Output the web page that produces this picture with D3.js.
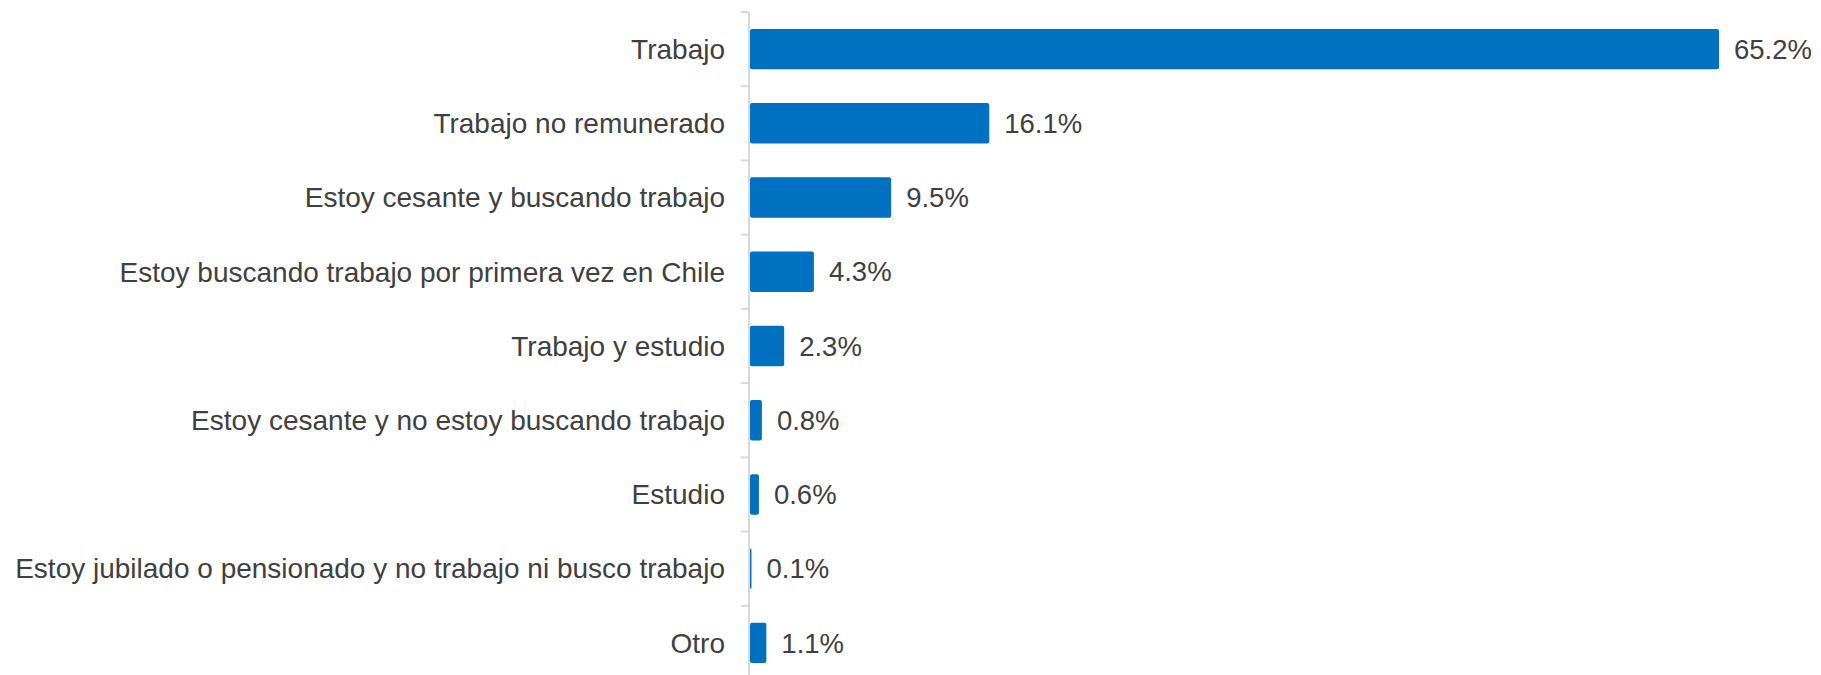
<!DOCTYPE html>
<html>
<head>
<meta charset="utf-8">
<script src="https://cdn.jsdelivr.net/npm/d3@7"></script>
<style>
  html, body { margin: 0; padding: 0; background: #ffffff; }
  svg { display: block; }
</style>
</head>
<body>
<svg id="chart" width="1821" height="675"></svg>
<script>
// Situación laboral declarada (porcentaje de respuestas)
const categories = [
  "Trabajo",
  "Trabajo no remunerado",
  "Estoy cesante y buscando trabajo",
  "Estoy buscando trabajo por primera vez en Chile",
  "Trabajo y estudio",
  "Estoy cesante y no estoy buscando trabajo",
  "Estudio",
  "Estoy jubilado o pensionado y no trabajo ni busco trabajo",
  "Otro"
];
const values = [65.2, 16.1, 9.5, 4.3, 2.3, 0.8, 0.6, 0.1, 1.1];

const W = 1821, H = 675;
const axisX = 750;
const fontFamily = "Arial, 'Liberation Sans', sans-serif";
const textColor = "#404040";
const barColor = "#0070C0";

const svg = d3.select("#chart");

const y = d3.scaleBand()
  .domain(categories)
  .range([12, 680])
  .paddingInner(0.455)
  .paddingOuter(0.2275);

const x = d3.scaleLinear()
  .domain([0, 65.2])
  .range([axisX, 1719]);

// Category axis: light grey line with ticks between bands
const axisG = svg.append("g");
axisG.append("line")
  .attr("x1", axisX - 1).attr("x2", axisX - 1)
  .attr("y1", y.range()[0]).attr("y2", y.range()[1])
  .attr("stroke", "#d9d9d9").attr("stroke-width", 2);

const boundaries = d3.range(categories.length + 1).map(i => y.range()[0] + i * y.step());
axisG.selectAll("line.tick")
  .data(boundaries)
  .join("line")
  .attr("class", "tick")
  .attr("x1", axisX - 9).attr("x2", axisX - 1)
  .attr("y1", d => d).attr("y2", d => d)
  .attr("stroke", "#d9d9d9").attr("stroke-width", 2);

// Bars
svg.append("g").selectAll("rect")
  .data(values)
  .join("rect")
  .attr("x", x(0))
  .attr("y", (d, i) => y(categories[i]))
  .attr("width", d => x(d) - x(0))
  .attr("height", y.bandwidth())
  .attr("rx", 2).attr("ry", 2)
  .attr("fill", barColor);

// Category labels
svg.append("g").selectAll("text")
  .data(categories)
  .join("text")
  .attr("x", axisX - 25)
  .attr("y", d => y(d) + y.bandwidth() / 2)
  .attr("dy", "0.35em")
  .attr("text-anchor", "end")
  .attr("font-family", fontFamily)
  .attr("font-size", 28)
  .attr("fill", textColor)
  .text(d => d);

// Value labels
const fmt = d => d.toFixed(1) + "%";
svg.append("g").selectAll("text")
  .data(values)
  .join("text")
  .attr("x", d => x(d) + 15)
  .attr("y", (d, i) => y(categories[i]) + y.bandwidth() / 2)
  .attr("dy", "0.35em")
  .attr("font-family", fontFamily)
  .attr("font-size", 27.5)
  .attr("fill", textColor)
  .text(fmt);
</script>
</body>
</html>
